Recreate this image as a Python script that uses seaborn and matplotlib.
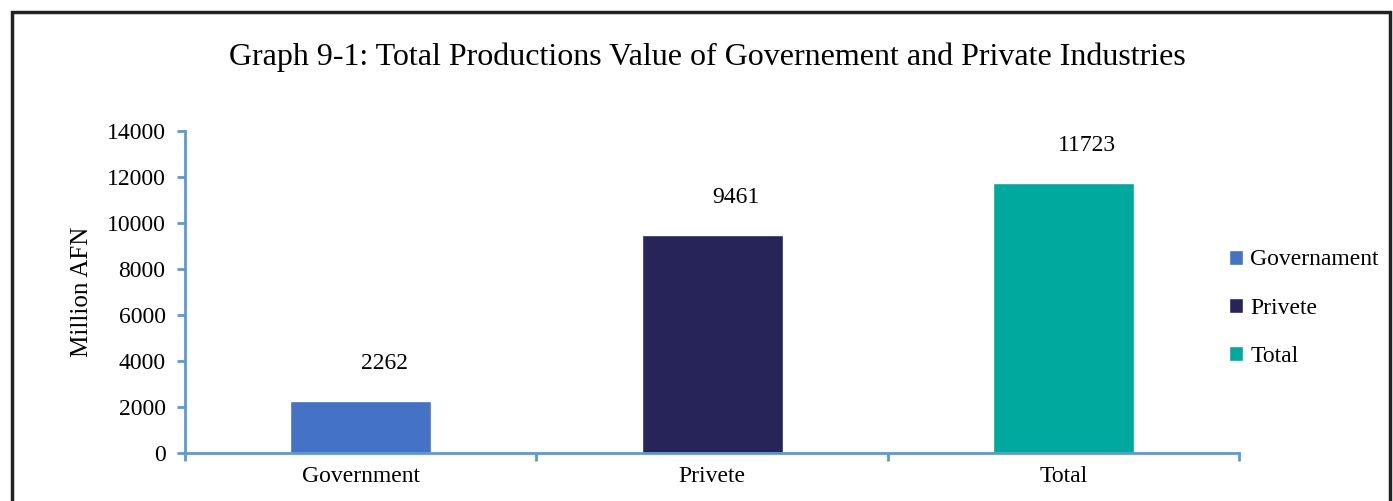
import numpy as np
import pandas as pd
import matplotlib
matplotlib.use("Agg")
import matplotlib.pyplot as plt
import seaborn as sns
from matplotlib.patches import Rectangle

# data
categories = ["Government", "Privete", "Total"]
legend_names = ["Governament", "Privete", "Total"]
values = [2262, 9461, 11723]
colors = ["#4472C4", "#262459", "#00A99D"]

sns.set_style("white")
plt.rcParams['font.family'] = ['Liberation Serif', 'DejaVu Serif']
plt.rcParams['text.color'] = 'black'
plt.rcParams['xtick.labelcolor'] = 'black'
plt.rcParams['ytick.labelcolor'] = 'black'
plt.rcParams['axes.labelcolor'] = 'black'

df = pd.DataFrame({"cat": categories, "series": legend_names, "value": values})

fig = plt.figure(figsize=(13.93, 5.01), dpi=100)
ax = fig.add_axes([0.1328, 0.0958, 0.757, 0.6427])

sns.barplot(data=df, x="cat", y="value", hue="series", palette=colors,
            dodge=False, width=0.4, saturation=1, ax=ax, legend=True)

axis_blue = "#5B9BD5"
ax.set_xlim(-0.5, 2.5)
ax.set_ylim(0, 14000)
ax.set_yticks(np.arange(0, 14001, 2000))
for side in ["top", "right"]:
    ax.spines[side].set_visible(False)
for side in ["left", "bottom"]:
    ax.spines[side].set_color(axis_blue)
    ax.spines[side].set_linewidth(2)

ax.tick_params(axis="y", direction="out", length=6, width=2, color=axis_blue,
               labelsize=17, left=True, pad=8)
ax.tick_params(axis="x", which="major", length=0, labelsize=17, pad=9)
ax.set_xticks([-0.5, 0.5, 1.5, 2.5], minor=True)
ax.tick_params(axis="x", which="minor", direction="out", length=6, width=2,
               color=axis_blue, bottom=True)
ax.set_xlabel("")
ax.set_ylabel("Million AFN", fontsize=18, labelpad=10)

# value labels above the bars (sitting a bit right of centre, as in the original)
for i, v in enumerate(values):
    ax.annotate(str(v), (i, v), xytext=(17, 27), textcoords="offset points",
                ha="center", va="center", fontsize=17)

handles, labels = ax.get_legend_handles_labels()
ax.legend(handles, labels, loc="center left", bbox_to_anchor=(0.99, 0.45),
          frameon=False, fontsize=17, handlelength=0.6, handleheight=0.6,
          handletextpad=0.3, labelspacing=1.15, borderpad=0, borderaxespad=0)

fig.text(0.5076, 0.886, "Graph 9-1: Total Productions Value of Governement and Private Industries",
         ha="center", va="center", fontsize=23)

# outer frame (bottom edge falls outside the image)
fig.patches.append(Rectangle((12 / 1393, -0.2), 1378 / 1393, 1.2 - 12 / 501,
                             transform=fig.transFigure, fill=False,
                             edgecolor="#222222", linewidth=2.5))

fig.savefig("out.png", dpi=100)
